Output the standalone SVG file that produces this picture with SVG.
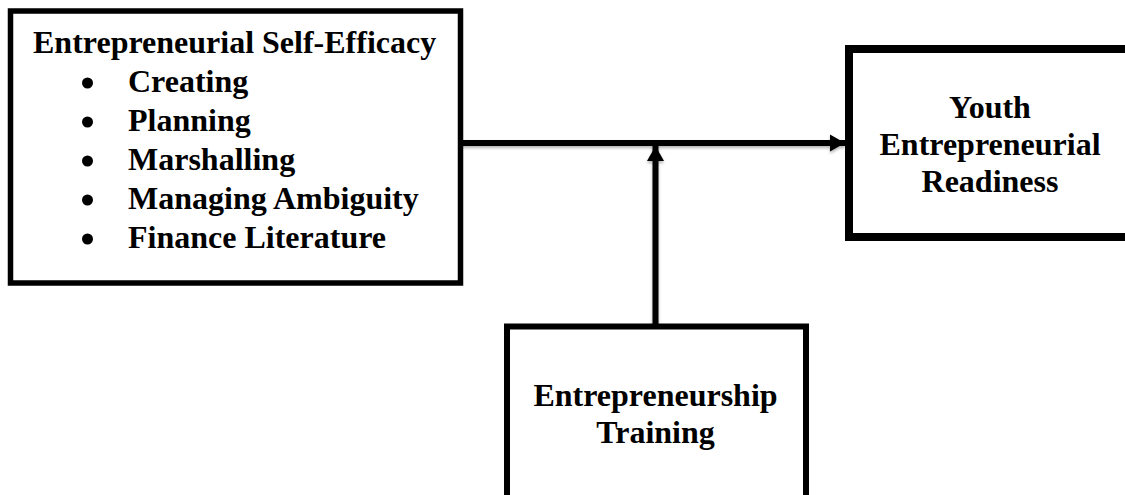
<svg xmlns="http://www.w3.org/2000/svg" width="1125" height="495" viewBox="0 0 1125 495">
  <defs>
    <style>
      .box { fill: #ffffff; stroke: #000000; }
      .label { font-family: "Liberation Serif", "Times New Roman", serif; font-weight: bold; font-size: 32px; fill: #000000; }
      .mid { text-anchor: middle; }
      .wire { stroke: #000000; stroke-width: 6; fill: none; }
    </style>
    <filter id="soft" x="-10%" y="-50%" width="120%" height="200%">
      <feDropShadow dx="0" dy="2" stdDeviation="1.5" flood-color="#000000" flood-opacity="0.3"/>
    </filter>
    <marker id="head" markerUnits="userSpaceOnUse" markerWidth="18" markerHeight="18" viewBox="0 0 18 18" refX="15" refY="9" orient="auto">
      <polygon points="0,0.5 15,9 0,17.5" fill="#000000"/>
    </marker>
  </defs>

  <rect width="1125" height="495" fill="#ffffff"/>

  <!-- links between the constructs -->
  <g id="connectors" filter="url(#soft)">
    <line class="wire" x1="461" y1="143" x2="845" y2="143" marker-end="url(#head)"/>
    <line class="wire" x1="655.5" y1="326" x2="655.5" y2="146" marker-end="url(#head)"/>
  </g>

  <!-- independent variable -->
  <g id="self-efficacy">
    <rect class="box" x="10.5" y="11" width="450" height="272" stroke-width="5.5"/>
    <text class="label" x="33" y="53">Entrepreneurial Self-Efficacy</text>
    <g fill="#000000">
      <circle cx="87.5" cy="83" r="5.5"/>
      <circle cx="87.5" cy="122" r="5.5"/>
      <circle cx="87.5" cy="161" r="5.5"/>
      <circle cx="87.5" cy="200" r="5.5"/>
      <circle cx="87.5" cy="239" r="5.5"/>
    </g>
    <text class="label" x="128" y="92">Creating</text>
    <text class="label" x="128" y="131">Planning</text>
    <text class="label" x="128" y="170">Marshalling</text>
    <text class="label" x="128" y="209">Managing Ambiguity</text>
    <text class="label" x="128" y="248">Finance Literature</text>
  </g>

  <!-- dependent variable -->
  <g id="readiness">
    <rect class="box" x="849" y="49" width="290" height="188" stroke-width="8"/>
    <text class="label mid" x="990" y="118">Youth</text>
    <text class="label mid" x="990" y="155">Entrepreneurial</text>
    <text class="label mid" x="990" y="192">Readiness</text>
  </g>

  <!-- moderator -->
  <g id="training">
    <rect class="box" x="507" y="326.5" width="299" height="200" stroke-width="6"/>
    <text class="label mid" x="655.5" y="406">Entrepreneurship</text>
    <text class="label mid" x="655.5" y="443">Training</text>
  </g>
</svg>
